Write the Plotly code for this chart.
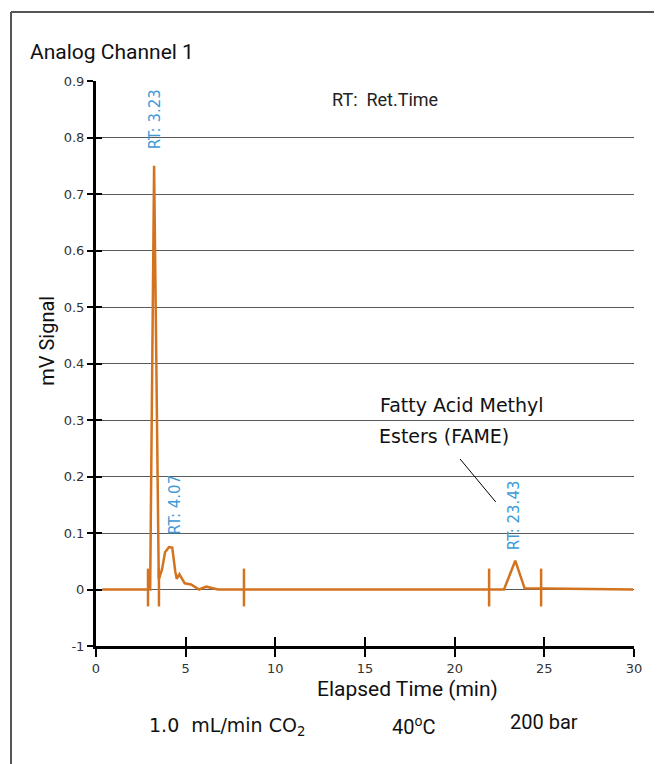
import plotly.graph_objects as go

# ---- data ----
time_min = [0.35, 2.95, 3.02, 3.24, 3.5, 3.68, 3.85, 4.07, 4.25, 4.42, 4.5, 4.65, 4.95, 5.3, 5.75, 6.15, 6.8,
            22.75, 23.38, 23.9, 29.95]
signal_mv = [0.0, 0.0, 0.0, 0.75, 0.018, 0.035, 0.066, 0.075, 0.074, 0.032, 0.019, 0.027, 0.011, 0.009, 0.0,
             0.005, 0.0, 0.0, 0.051, 0.002, 0.0]

marker_times = [2.9, 3.51, 8.25, 21.92, 24.82]
marker_low = -0.03
marker_high = 0.037

rt_labels = ["RT: 3.23", "RT: 4.07", "RT: 23.43"]
rt_x = [3.3, 4.4, 23.28]
rt_y = [0.776, 0.093, 0.067]

x_ticks = [0, 5, 10, 15, 20, 25, 30]
y_ticks = [-0.1, 0, 0.1, 0.2, 0.3, 0.4, 0.5, 0.6, 0.7, 0.8, 0.9]
y_ticktext = ["-1", "0", "0.1", "0.2", "0.3", "0.4", "0.5", "0.6", "0.7", "0.8", "0.9"]
grid_vals = [0, 0.1, 0.2, 0.3, 0.4, 0.5, 0.6, 0.7, 0.8]

LINE = "#D4731F"
BLUE = "#3C9AD6"

# page body has an 8px margin; compensate so the picture lands where intended
OFF = 8
W, H = 662, 764
L, T = 96 - OFF, 81 - OFF
pw, ph = 538, 565.5
R = W - L - pw
B = H - T - ph


def px(xp):
    return (xp - OFF - L) / pw


def py(yp):
    return (T + ph - (yp - OFF)) / ph


fig = go.Figure()

# grid on an overlay axis (no gridline at 0.9)
fig.add_trace(go.Scatter(x=[0], y=[0], yaxis="y3", mode="markers",
                         marker=dict(opacity=0), hoverinfo="skip"))

fig.add_trace(go.Scatter(x=time_min, y=signal_mv, mode="lines",
                         line=dict(color=LINE, width=2.5), hoverinfo="skip"))

mx, my = [], []
for t in marker_times:
    mx += [t, t, None]
    my += [marker_low, marker_high, None]
fig.add_trace(go.Scatter(x=mx, y=my, mode="lines", line=dict(color=LINE, width=2.5),
                         hoverinfo="skip"))

# invisible trace on the overlay axes (inside ticks)
fig.add_trace(go.Scatter(x=[0], y=[0], xaxis="x2", yaxis="y2", mode="markers",
                         marker=dict(opacity=0), hoverinfo="skip"))

tickfont = dict(family="DejaVu Sans", size=13, color="#333")

fig.update_layout(
    width=W, height=H,
    margin=dict(l=L, r=R, t=T, b=B),
    paper_bgcolor="white", plot_bgcolor="white",
    showlegend=False,
    xaxis=dict(range=[0, 30], tickvals=x_ticks, ticks="outside", ticklen=8, tickwidth=1.5,
               tickcolor="black", showline=True, linewidth=3, linecolor="black",
               showgrid=False, zeroline=False, tickfont=tickfont),
    yaxis=dict(range=[-0.1, 0.9], tickvals=y_ticks, ticktext=y_ticktext, ticks="outside",
               ticklen=6, tickwidth=2, tickcolor="black", showline=True, linewidth=3,
               linecolor="black", showgrid=False, zeroline=False, tickfont=tickfont),
    xaxis2=dict(range=[0, 30], overlaying="x", side="bottom", tickvals=x_ticks, ticks="inside",
                ticklen=9, tickwidth=1.5, tickcolor="black", showticklabels=False,
                showline=False, showgrid=False, zeroline=False),
    yaxis2=dict(range=[-0.1, 0.9], overlaying="y", side="left", tickvals=y_ticks, ticks="inside",
                ticklen=6, tickwidth=2, tickcolor="black", showticklabels=False,
                showline=False, showgrid=False, zeroline=False),
    yaxis3=dict(range=[-0.1, 0.9], overlaying="y", tickvals=grid_vals, showgrid=True,
                gridcolor="#5a5a5a", gridwidth=1, showticklabels=False, zeroline=False,
                showline=False, ticks=""),
)

# frame
fig.add_shape(type="line", xref="paper", yref="paper", x0=px(11), x1=px(W + 20), y0=py(12), y1=py(12),
              line=dict(color="#555", width=2))
fig.add_shape(type="line", xref="paper", yref="paper", x0=px(11), x1=px(11), y0=py(12), y1=py(H + 20),
              line=dict(color="#555", width=2))

# FAME pointer
fig.add_shape(type="line", xref="x", yref="y", x0=20.3, y0=0.231, x1=22.29, y1=0.155,
              line=dict(color="black", width=1))

ann = []
for lbl, x, y in zip(rt_labels, rt_x, rt_y):
    ann.append(dict(text=lbl, x=x, y=y, xref="x", yref="y", textangle=-90, xanchor="center",
                    yanchor="bottom", showarrow=False,
                    font=dict(family="DejaVu Sans", size=15, color=BLUE)))

ann += [
    dict(text="Analog Channel 1", x=px(28), y=py(52), xref="paper", yref="paper", xanchor="left",
         yanchor="middle", showarrow=False, font=dict(family="Roboto", size=21, color="#111")),
    dict(text="RT:  Ret.Time", x=px(330), y=py(100), xref="paper", yref="paper", xanchor="left",
         yanchor="middle", showarrow=False, font=dict(family="Roboto", size=18, color="#222")),
    dict(text="Fatty Acid Methyl", x=px(378), y=py(405), xref="paper", yref="paper", xanchor="left",
         yanchor="middle", showarrow=False, font=dict(family="DejaVu Sans", size=19, color="#111")),
    dict(text="Esters (FAME)", x=px(377), y=py(436), xref="paper", yref="paper", xanchor="left",
         yanchor="middle", showarrow=False, font=dict(family="DejaVu Sans", size=19, color="#111")),
    dict(text="mV Signal", x=px(47), y=py(341), xref="paper", yref="paper", xanchor="center",
         yanchor="middle", textangle=-90, showarrow=False,
         font=dict(family="Roboto", size=20, color="#111")),
    dict(text="Elapsed Time (min)", x=px(407), y=py(690), xref="paper", yref="paper", xanchor="center",
         yanchor="middle", showarrow=False, font=dict(family="Roboto", size=21, color="#111")),
    dict(text="1.0  mL/min CO<sub>2</sub>", x=px(147), y=py(727), xref="paper", yref="paper",
         xanchor="left", yanchor="middle", showarrow=False,
         font=dict(family="DejaVu Sans", size=19, color="#111")),
    dict(text="40<sup>o</sup>C", x=px(390), y=py(727), xref="paper", yref="paper",
         xanchor="left", yanchor="middle", showarrow=False,
         font=dict(family="Roboto", size=20, color="#111")),
    dict(text="200 bar", x=px(508), y=py(723), xref="paper", yref="paper",
         xanchor="left", yanchor="middle", showarrow=False,
         font=dict(family="Roboto", size=20, color="#111")),
]
fig.update_layout(annotations=ann)

fig.write_html("out.html")
